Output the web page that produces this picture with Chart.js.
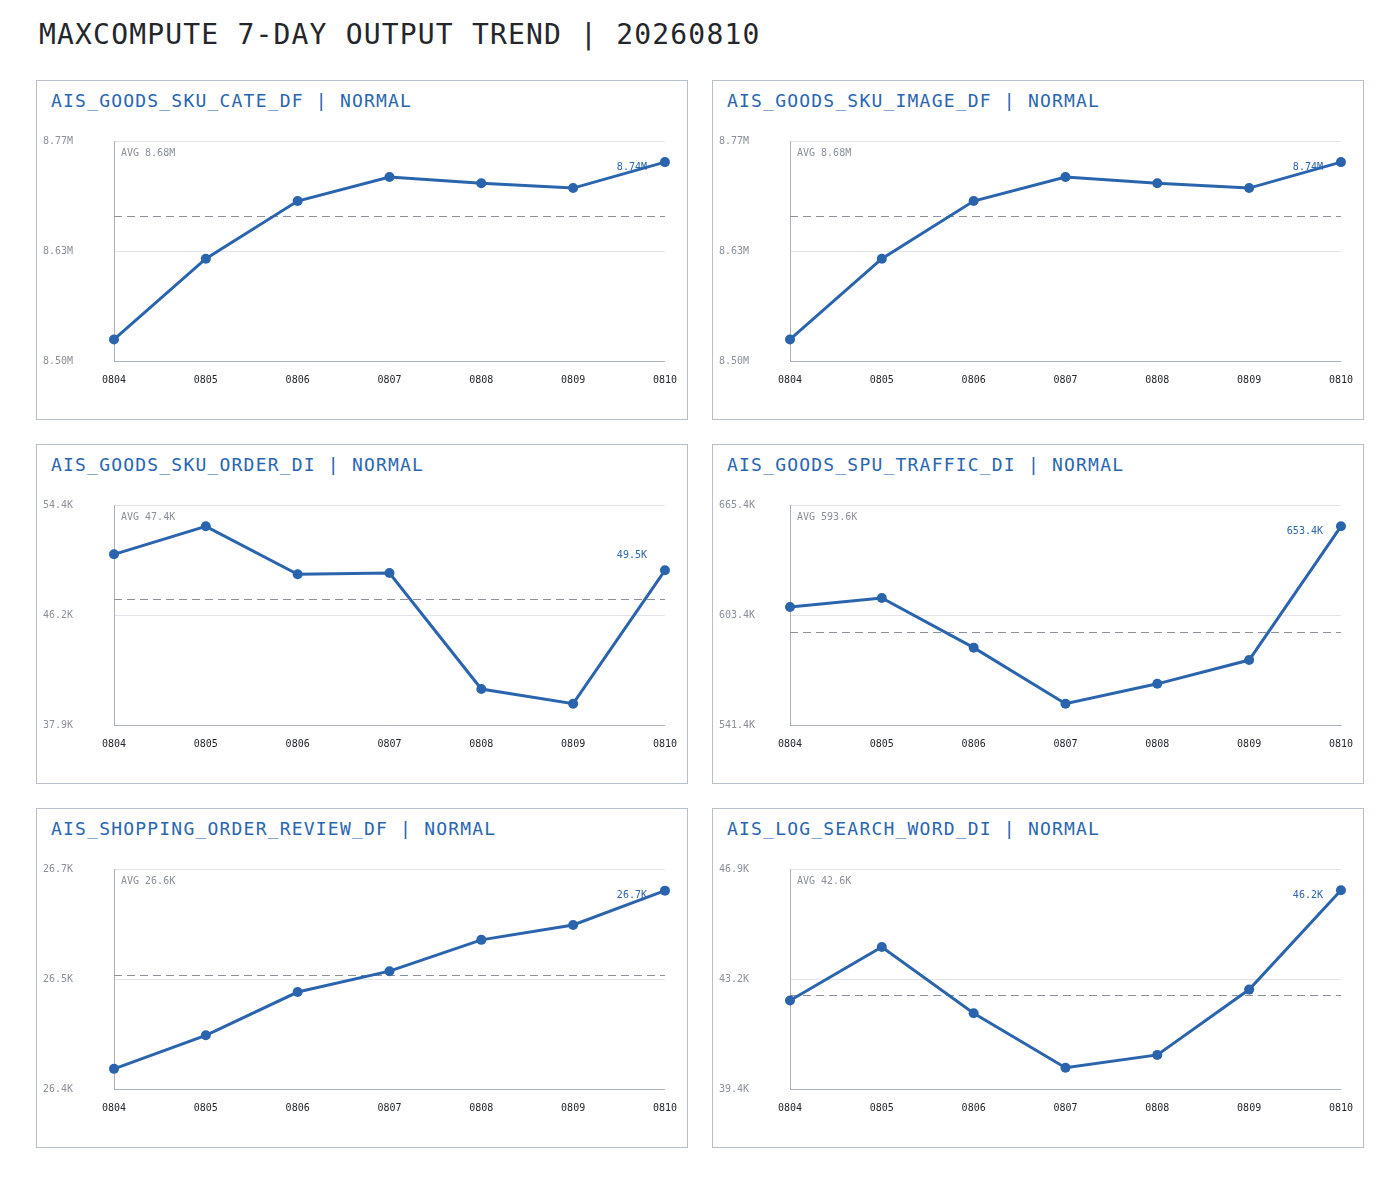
<!DOCTYPE html>
<html>
<head>
<meta charset="utf-8">
<script src="https://cdn.jsdelivr.net/npm/chart.js@4.4.1/dist/chart.umd.min.js"></script>
<style>
body { margin: 0; background: #fff; width: 1400px; height: 1178px; position: relative; font-family: "DejaVu Sans Mono", monospace; }
#title { position: absolute; left: 39px; top: 18px; font-size: 28px; line-height: 34px; letter-spacing: 1.18px; color: #23262b; white-space: nowrap; }
.panel { position: absolute; width: 652px; height: 340px; box-sizing: border-box; border: 1px solid #b7bfcb; background: #fff; }
.ptitle { position: absolute; left: 14px; top: 10px; font-size: 18px; line-height: 20px; letter-spacing: 1.2px; color: #2a66b0; white-space: nowrap; }
.cwrap { position: absolute; left: 6px; top: 51px; width: 647px; height: 269px; }
</style>
</head>
<body>
<div id="title">MAXCOMPUTE 7-DAY OUTPUT TREND | 20260810</div>
<script>
// x axis days
const days = ['0804', '0805', '0806', '0807', '0808', '0809', '0810'];

// table names and status, one per panel
const tables = ['AIS_GOODS_SKU_CATE_DF', 'AIS_GOODS_SKU_IMAGE_DF', 'AIS_GOODS_SKU_ORDER_DI',
                'AIS_GOODS_SPU_TRAFFIC_DI', 'AIS_SHOPPING_ORDER_REVIEW_DF', 'AIS_LOG_SEARCH_WORD_DI'];
const statuses = ['NORMAL', 'NORMAL', 'NORMAL', 'NORMAL', 'NORMAL', 'NORMAL'];
const units = ['M', 'M', 'K', 'K', 'K', 'K'];

// daily output rows
const skuCate = [8524500, 8624000, 8695000, 8724600, 8717000, 8711000, 8743000];
const skuImage = [8524500, 8624000, 8695000, 8724600, 8717000, 8711000, 8743000];
const skuOrder = [50700, 52800, 49200, 49300, 40600, 39500, 49500];
const spuTraffic = [607900, 613000, 585000, 553400, 564600, 578000, 653400];
const orderReview = [26427, 26472, 26530, 26558, 26600, 26620, 26666];
const searchWord = [42400, 44240, 41960, 40080, 40525, 42775, 46200];
const allSeries = [skuCate, skuImage, skuOrder, spuTraffic, orderReview, searchWord];

// y axis bounds and tick labels (bottom, middle, top)
const yMins = [8498000, 8498000, 37900, 541400, 26400, 39350];
const yMaxs = [8769000, 8769000, 54400, 665400, 26695, 46930];
const tickLabels = [
    ['8.50M', '8.63M', '8.77M'],
    ['8.50M', '8.63M', '8.77M'],
    ['37.9K', '46.2K', '54.4K'],
    ['541.4K', '603.4K', '665.4K'],
    ['26.4K', '26.5K', '26.7K'],
    ['39.4K', '43.2K', '46.9K']
];

const blue = '#2a64ad';
const font = 'DejaVu Sans Mono';

function fmt(v, unit) {
    if (unit === 'M') return (v / 1e6).toFixed(2) + 'M';
    return (v / 1e3).toFixed(1) + 'K';
}

// dashed average line, AVG text and last value label
function makeMarks(unit) {
    return {
        id: 'avgMarks',
        beforeDatasetsDraw(chart) {
            const { ctx, chartArea: a, scales: { y } } = chart;
            const vals = chart.data.datasets[0].data;
            const avg = vals.reduce((s, v) => s + v, 0) / vals.length;
            const py = Math.round(y.getPixelForValue(avg)) + 0.5;
            ctx.save();
            ctx.strokeStyle = '#8d9098';
            ctx.lineWidth = 1;
            ctx.setLineDash([8, 5]);
            ctx.beginPath();
            ctx.moveTo(a.left, py);
            ctx.lineTo(a.right, py);
            ctx.stroke();
            ctx.restore();
        },
        afterDatasetsDraw(chart) {
            const { ctx, chartArea: a } = chart;
            const vals = chart.data.datasets[0].data;
            const avg = vals.reduce((s, v) => s + v, 0) / vals.length;
            ctx.save();
            ctx.font = '10px "' + font + '"';
            ctx.textBaseline = 'middle';
            ctx.textAlign = 'left';
            ctx.fillStyle = '#8a8f99';
            ctx.fillText('AVG ' + fmt(avg, unit), a.left + 7, a.top + 12);
            const pts = chart.getDatasetMeta(0).data;
            const last = pts[pts.length - 1];
            ctx.textAlign = 'right';
            ctx.fillStyle = blue;
            ctx.fillText(fmt(vals[vals.length - 1], unit), last.x - 18, Math.max(last.y - 15, a.top + 26));
            ctx.restore();
        }
    };
}

const lefts = [36, 712];
const tops = [80, 444, 808];

tables.forEach((name, i) => {
    const panel = document.createElement('div');
    panel.className = 'panel';
    panel.style.left = lefts[i % 2] + 'px';
    panel.style.top = tops[Math.floor(i / 2)] + 'px';
    panel.innerHTML = '<div class="ptitle">' + name + ' | ' + statuses[i] + '</div><div class="cwrap"><canvas></canvas></div>';
    document.body.appendChild(panel);

    const canvas = panel.querySelector('canvas');
    const labels = tickLabels[i];
    const lo = yMins[i], hi = yMaxs[i];

    new Chart(canvas.getContext('2d'), {
        type: 'line',
        data: {
            labels: days,
            datasets: [{
                data: allSeries[i],
                borderColor: blue,
                backgroundColor: blue,
                borderWidth: 3,
                pointRadius: 5,
                pointBorderWidth: 0,
                pointBackgroundColor: blue,
                tension: 0,
                clip: false
            }]
        },
        options: {
            responsive: true,
            maintainAspectRatio: false,
            animation: false,
            layout: { padding: { top: 9, right: 18, left: 0, bottom: 0 } },
            plugins: { legend: { display: false }, tooltip: { enabled: false } },
            scales: {
                x: {
                    offset: false,
                    grid: { display: false, drawTicks: false },
                    border: { display: true, color: '#a9b1bf', width: 1 },
                    ticks: { color: '#23262b', font: { family: font, size: 10 }, padding: 13, maxRotation: 0, autoSkip: false },
                    afterFit: (s) => { s.height = 40; }
                },
                y: {
                    min: lo,
                    max: hi,
                    afterBuildTicks: (s) => { s.ticks = [{ value: lo }, { value: (lo + hi) / 2 }, { value: hi }]; },
                    grid: { color: '#e1e4eb', lineWidth: 1, drawTicks: false },
                    border: { display: true, color: '#a9b1bf', width: 1 },
                    ticks: {
                        color: '#8a8f99',
                        font: { family: font, size: 10 },
                        crossAlign: 'far',
                        padding: 0,
                        callback: (v, idx) => labels[idx]
                    },
                    afterFit: (s) => { s.width = 71; }
                }
            }
        },
        plugins: [makeMarks(units[i])]
    });
});
</script>
</body>
</html>
